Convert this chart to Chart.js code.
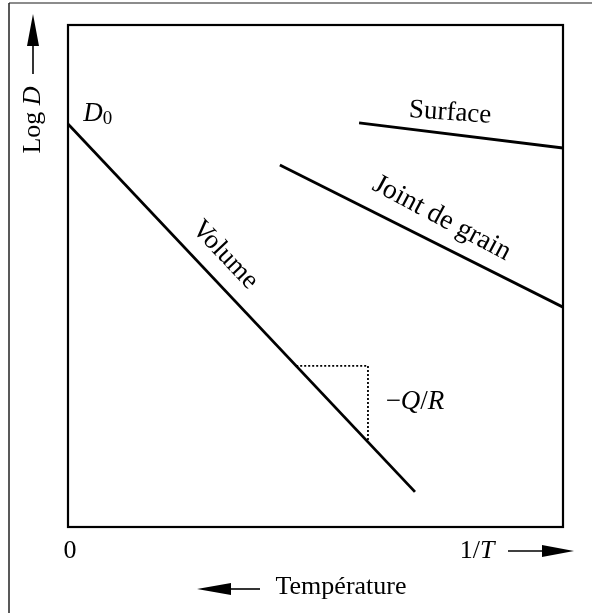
<!DOCTYPE html>
<html>
<head>
<meta charset="utf-8">
<script src="https://cdn.jsdelivr.net/npm/chart.js@4.4.1/dist/chart.umd.min.js"></script>
<style>
  html, body { margin: 0; padding: 0; background: #fff; }
  canvas { display: block; }
</style>
</head>
<body>
<canvas id="diffChart" width="592" height="613"></canvas>
<script>
// axes en unités arbitraires : x = 1/T (0 -> 10), y = log D (0 -> 10)
var volumeX = [0, 7.01];
var volumeY = [8.03, 0.70];
var surfaceX = [5.88, 10];
var surfaceY = [8.05, 7.55];
var jointX = [4.28, 10];
var jointY = [7.21, 4.38];
// petit triangle pointillé de la pente -Q/R
var penteX = [4.61, 6.06, 6.06];
var penteY = [3.21, 3.21, 1.72];

function toPoints(xs, ys) {
    return xs.map(function(x, i) { return { x: x, y: ys[i] }; });
}

var SERIF = '"Liberation Serif", "DejaVu Serif", serif';

// écrit une suite de morceaux (droit / italique) centrée sur x
function drawRuns(ctx, runs, x, y, size) {
    var total = 0;
    runs.forEach(function(r) {
        ctx.font = (r.i ? 'italic ' : '') + (r.s || size) + 'px ' + SERIF;
        r.w = ctx.measureText(r.t).width;
        total += r.w;
    });
    var cx = x - total / 2;
    runs.forEach(function(r) {
        ctx.font = (r.i ? 'italic ' : '') + (r.s || size) + 'px ' + SERIF;
        ctx.textAlign = 'left';
        ctx.textBaseline = 'middle';
        ctx.fillText(r.t, cx, y + (r.dy || 0));
        cx += r.w;
    });
}

// flèche : trait fin + pointe pleine (de (x1,y1) vers (x2,y2))
function drawArrow(ctx, x1, y1, x2, y2, headLen, headW) {
    var a = Math.atan2(y2 - y1, x2 - x1);
    var bx = x2 - headLen * Math.cos(a), by = y2 - headLen * Math.sin(a);
    ctx.beginPath();
    ctx.moveTo(x1, y1);
    ctx.lineTo(bx, by);
    ctx.lineWidth = 1.6;
    ctx.stroke();
    ctx.beginPath();
    ctx.moveTo(x2, y2);
    ctx.lineTo(bx + headW * Math.sin(a), by - headW * Math.cos(a));
    ctx.lineTo(bx - headW * Math.sin(a), by + headW * Math.cos(a));
    ctx.closePath();
    ctx.fill();
}

var annotations = {
    id: 'annotations',
    afterDraw: function(chart) {
        var ctx = chart.ctx;
        var xs = chart.scales.x, ys = chart.scales.y;
        var area = chart.chartArea;
        ctx.save();
        ctx.fillStyle = '#000';

        // cadre extérieur (haut et gauche seulement)
        ctx.lineWidth = 1.5;
        ctx.strokeStyle = '#666';
        ctx.beginPath();
        ctx.moveTo(9, 3);
        ctx.lineTo(592, 3);
        ctx.stroke();
        ctx.strokeStyle = '#222';
        ctx.beginPath();
        ctx.moveTo(9, 613);
        ctx.lineTo(9, 3);
        ctx.stroke();

        // cadre du graphique
        ctx.strokeStyle = '#000';
        ctx.lineWidth = 2.2;
        ctx.strokeRect(area.left, area.top, area.right - area.left, area.bottom - area.top);

        // étiquettes des courbes
        var labels = [
            { t: 'Volume', x: 3.17, y: 5.42, rot: 46.7, s: 27 },
            { t: 'Surface', x: 7.72, y: 8.25, rot: 4, s: 27 },
            { t: 'Joint de grain', x: 7.55, y: 6.15, rot: 28, s: 28 }
        ];
        labels.forEach(function(l) {
            ctx.save();
            ctx.translate(xs.getPixelForValue(l.x), ys.getPixelForValue(l.y));
            ctx.rotate(l.rot * Math.PI / 180);
            drawRuns(ctx, [{ t: l.t }], 0, 0, l.s);
            ctx.restore();
        });

        // D0
        drawRuns(ctx, [{ t: 'D', i: true }, { t: '0', s: 19, dy: 5 }],
            xs.getPixelForValue(0.6), ys.getPixelForValue(8.23), 27);

        // -Q/R
        drawRuns(ctx, [{ t: '\u2212' }, { t: 'Q', i: true }, { t: '/' }, { t: 'R', i: true }],
            xs.getPixelForValue(7.01), ys.getPixelForValue(2.49), 27);

        // axe x
        var yTick = area.bottom + 24;
        drawRuns(ctx, [{ t: '0' }], xs.getPixelForValue(0) + 2, yTick, 26);
        drawRuns(ctx, [{ t: '1/' }, { t: 'T', i: true }], 477, yTick, 26);
        drawArrow(ctx, 508, yTick, 574, yTick, 32, 6);

        drawRuns(ctx, [{ t: 'Température' }], 341, yTick + 36, 26);
        drawArrow(ctx, 260, yTick + 38, 197, yTick + 38, 34, 6);

        // axe y
        ctx.save();
        ctx.translate(33, 120);
        ctx.rotate(-Math.PI / 2);
        drawRuns(ctx, [{ t: 'Log ' }, { t: 'D', i: true }], 0, 0, 26);
        ctx.restore();
        drawArrow(ctx, 33, 74, 33, 14, 32, 6);

        ctx.restore();
    }
};

var ctx = document.getElementById('diffChart').getContext('2d');
var lineStyle = { showLine: true, pointRadius: 0, borderColor: '#000', borderWidth: 2.8, fill: false, tension: 0 };

var diffChart = new Chart(ctx, {
    type: 'scatter',
    data: {
        datasets: [
            Object.assign({ label: 'Volume', data: toPoints(volumeX, volumeY) }, lineStyle),
            Object.assign({ label: 'Surface', data: toPoints(surfaceX, surfaceY) }, lineStyle),
            Object.assign({ label: 'Joint de grain', data: toPoints(jointX, jointY) }, lineStyle),
            {
                label: '-Q/R',
                data: toPoints(penteX, penteY),
                showLine: true,
                pointRadius: 0,
                borderColor: '#000',
                borderWidth: 1.8,
                borderDash: [2, 2],
                fill: false
            }
        ]
    },
    options: {
        responsive: false,
        animation: false,
        layout: {
            padding: { left: 68, top: 25, right: 29, bottom: 86 }
        },
        plugins: {
            legend: { display: false },
            tooltip: { enabled: false }
        },
        scales: {
            x: { type: 'linear', min: 0, max: 10, display: false },
            y: { type: 'linear', min: 0, max: 10, display: false }
        }
    },
    plugins: [annotations]
});
</script>
</body>
</html>
